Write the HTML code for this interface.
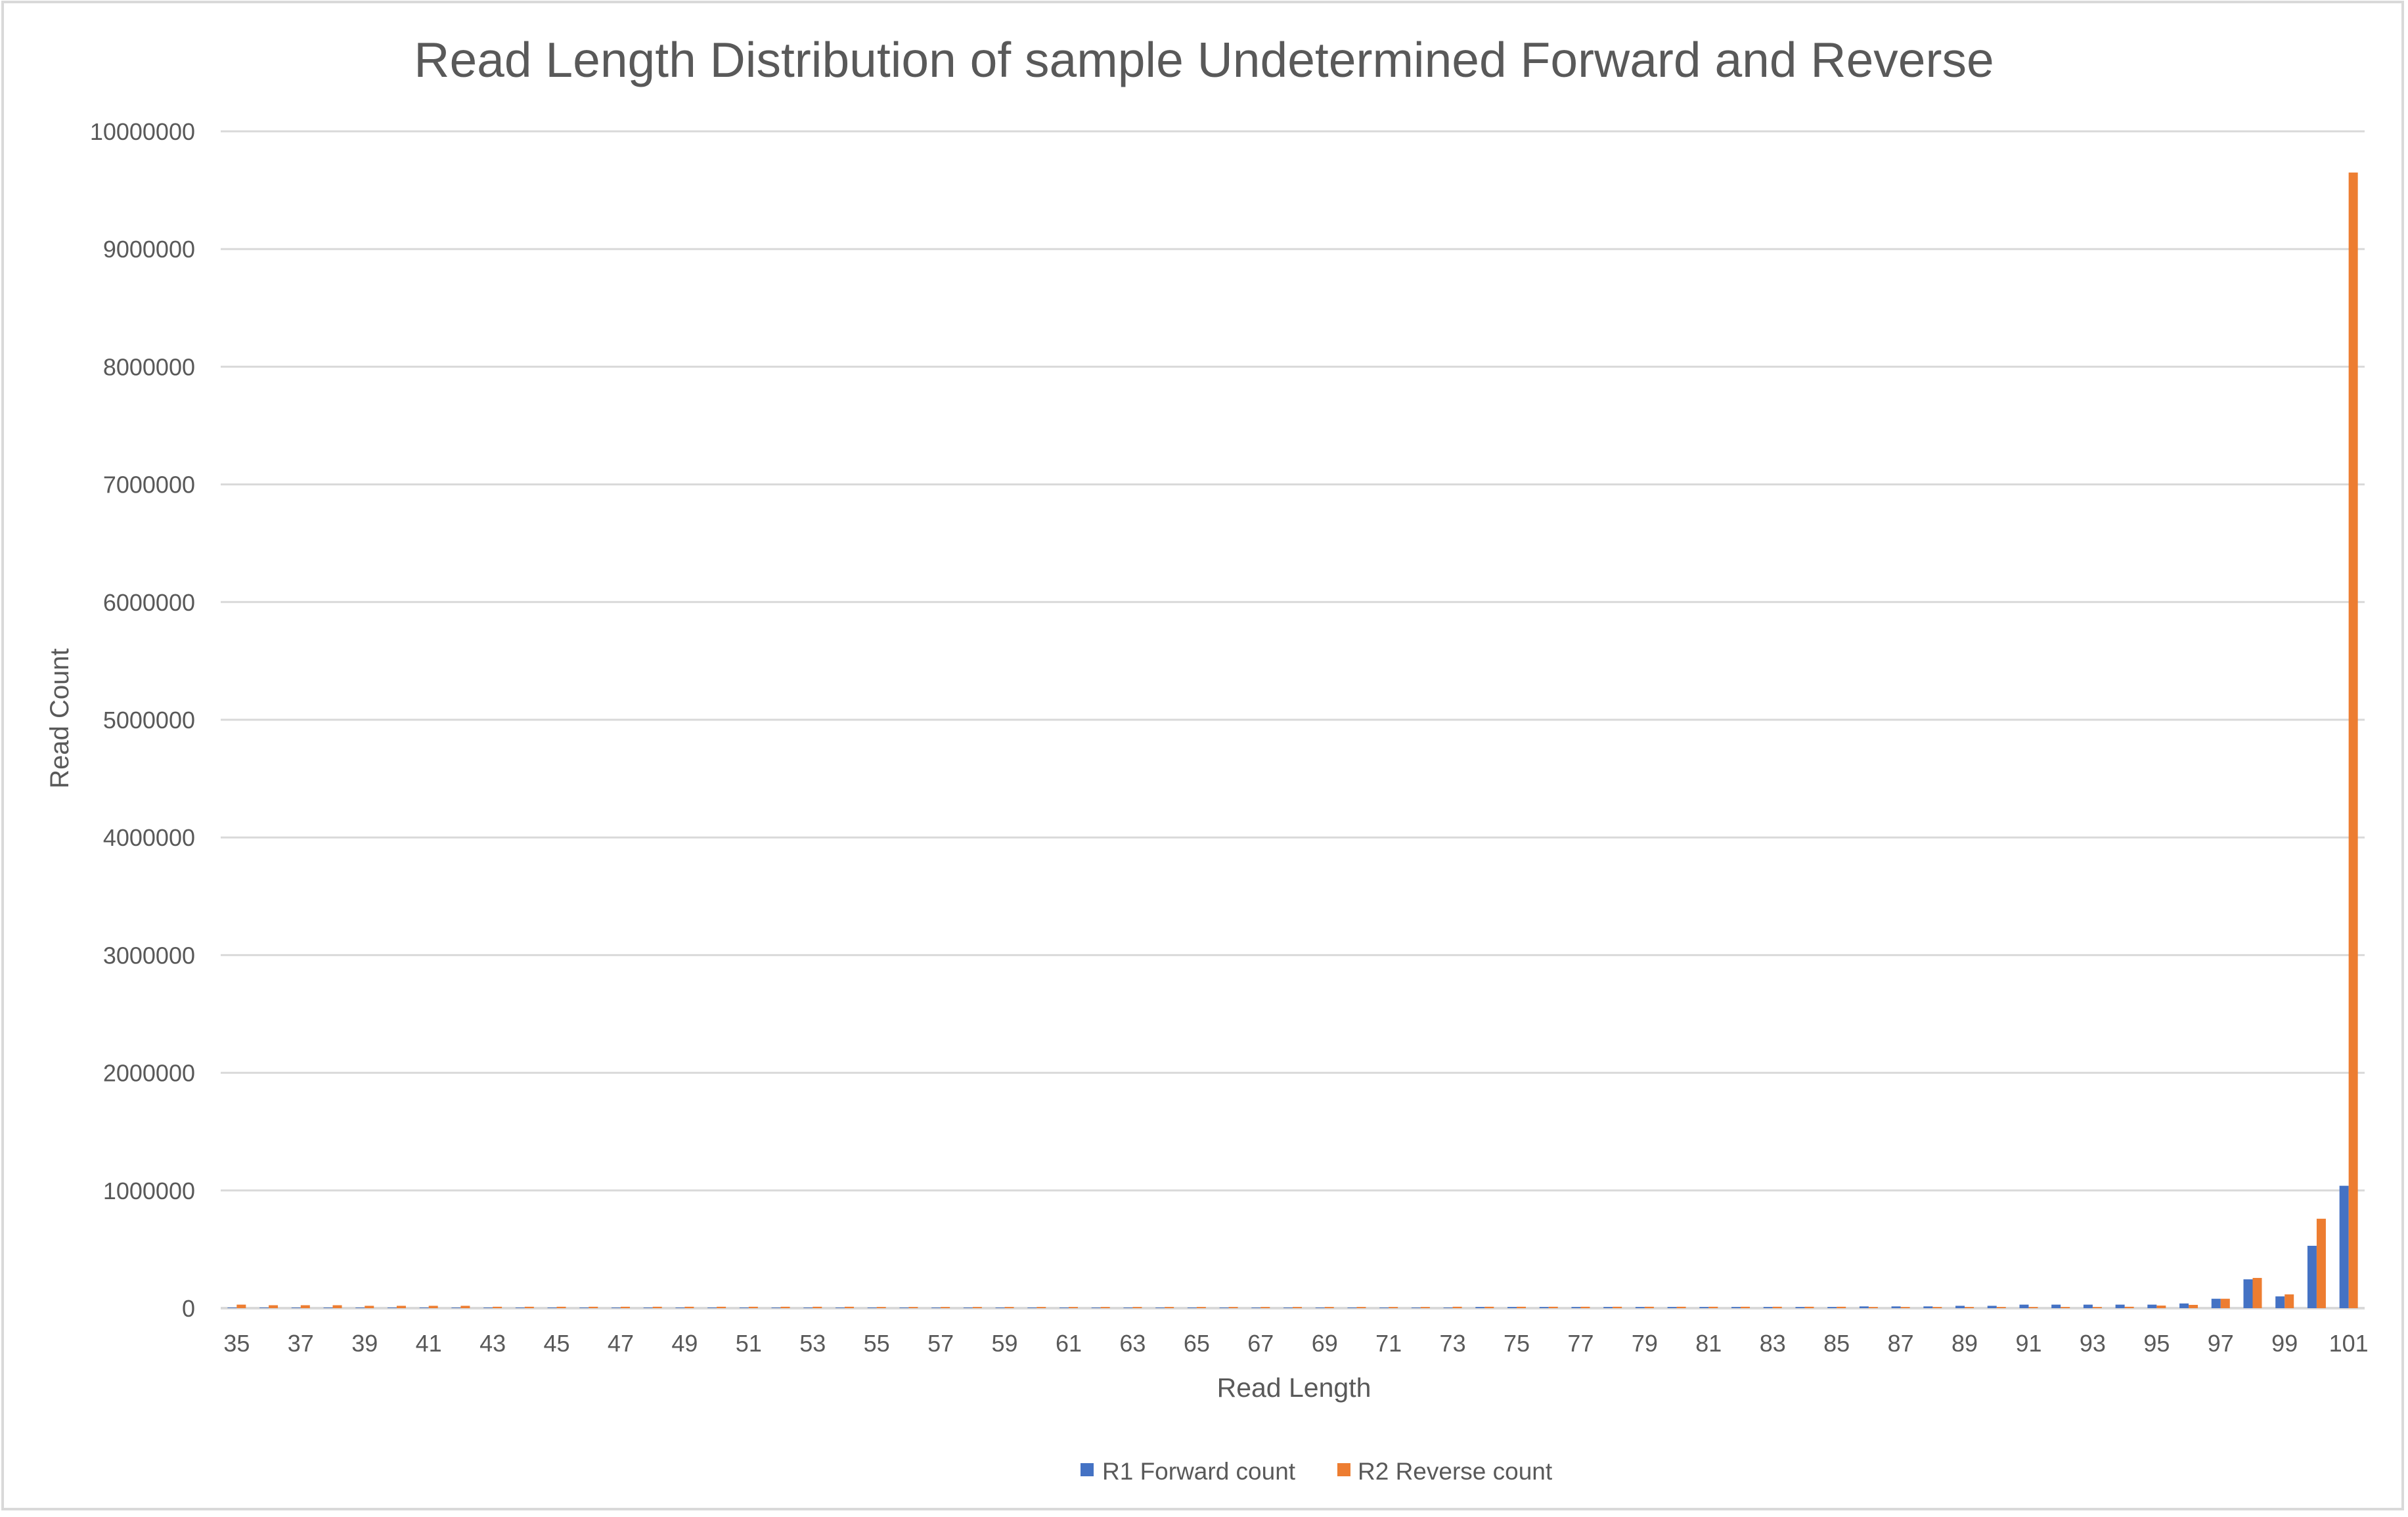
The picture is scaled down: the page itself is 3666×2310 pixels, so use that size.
<!DOCTYPE html>
<html><head><meta charset="utf-8"><style>
html,body{margin:0;padding:0;background:#fff;}
svg{display:block;font-family:"Liberation Sans",sans-serif;}
</style></head><body>
<svg id="chart" width="3666" height="2310" viewBox="0 0 3666 2310" xmlns="http://www.w3.org/2000/svg">
<rect x="4" y="3" width="3654" height="2295" fill="#fff" stroke="#d9d9d9" stroke-width="4"/>
<text x="1833" y="117" text-anchor="middle" font-size="75" fill="#595959">Read Length Distribution of sample Undetermined Forward and Reverse</text>
<g id="grid"></g>
<g id="yticks"></g>
<g id="bars"></g>
<g id="xticks"></g>
<text transform="translate(104,1094) rotate(-90)" text-anchor="middle" font-size="40" fill="#595959">Read Count</text>
<text x="1970" y="2127" text-anchor="middle" font-size="41" fill="#595959">Read Length</text>
<g>
<g><rect x="1645" y="2228" width="20" height="20" fill="#4472c4"/><text x="1678" y="2253" font-size="37" fill="#595959">R1 Forward count</text></g>
<g><rect x="2036" y="2228" width="20" height="20" fill="#ed7d31"/><text x="2067" y="2253" font-size="37" fill="#595959">R2 Reverse count</text></g>
</g>
</svg>
<script>
const categories = [];
for (let c = 35; c <= 101; c++) categories.push(c);
const r1Values = [
5000,5000,5000,5000,5000,5000,5000,5000,5000,5000,5000,5000,5000,5000,5000,5000,5000,5000,5000,5000,
5000,5000,5000,5000,5000,5000,5000,5000,5000,5000,5000,5000,5000,5000,5000,5000,5000,5000,5000,
10000,10000,10000,10000,10000,10000,10000,10000,10000,10000,10000,10000,
15000,15000,15000,20000,20000,
30000,30000,30000,30000,30000,
40000,80000,245000,100000,530000,1040000];
const r2Values = [
30000,25000,25000,25000,20000,20000,20000,20000,
12000,12000,12000,12000,12000,12000,12000,12000,12000,12000,12000,12000,
10000,10000,10000,10000,10000,10000,10000,10000,10000,10000,10000,10000,10000,10000,10000,10000,10000,10000,
12000,12000,12000,12000,12000,12000,12000,12000,12000,12000,12000,12000,12000,
10000,10000,10000,10000,10000,10000,10000,10000,
12000,22000,28000,80000,257000,117000,760000,9650000];
const yTicks = [0,1000000,2000000,3000000,4000000,5000000,6000000,7000000,8000000,9000000,10000000];

const NS = "http://www.w3.org/2000/svg";
const plotL = 336, plotR = 3600, y0 = 1992, yMaxPx = 200, yMax = 10000000;
const bandW = (plotR - plotL) / categories.length;
const barW = 14;
function yScale(v){ return y0 - (v / yMax) * (y0 - yMaxPx); }
function xBand(i){ return plotL + i * bandW; }

const grid = document.getElementById('grid');
const yt = document.getElementById('yticks');
yTicks.forEach(t => {
  const l = document.createElementNS(NS,'line');
  
  
  l.setAttribute('x1',plotL); l.setAttribute('x2',plotR);
  l.setAttribute('y1',yScale(t)); l.setAttribute('y2',yScale(t));
  l.setAttribute('stroke','#d9d9d9'); l.setAttribute('stroke-width', t===0?4:3);
  grid.appendChild(l);
  const tx = document.createElementNS(NS,'text');
  
  
  tx.setAttribute('x',297); tx.setAttribute('y',yScale(t)+13);
  tx.setAttribute('text-anchor','end'); tx.setAttribute('font-size','36'); tx.setAttribute('fill','#595959');
  tx.textContent = t;
  yt.appendChild(tx);
});

const bars = document.getElementById('bars');
const xt = document.getElementById('xticks');
categories.forEach((c,i) => {
  const cx = xBand(i) + bandW/2;
  [[r1Values[i],'#4472c4',-barW],[r2Values[i],'#ed7d31',0]].forEach(([v,col,off],k) => {
    const r = document.createElementNS(NS,'rect');
    
    
    const top = yScale(v);
    r.setAttribute('x', cx + off); r.setAttribute('width', barW);
    r.setAttribute('y', top); r.setAttribute('height', Math.max(0, y0 - top));
    r.setAttribute('fill', col);
    bars.appendChild(r);
  });
  if (i % 2 === 0) {
    const tx = document.createElementNS(NS,'text');
    
    
    tx.setAttribute('x',cx); tx.setAttribute('y',2058);
    tx.setAttribute('text-anchor','middle'); tx.setAttribute('font-size','36'); tx.setAttribute('fill','#595959');
    tx.textContent = c;
    xt.appendChild(tx);
  }
});
</script>
</body></html>
